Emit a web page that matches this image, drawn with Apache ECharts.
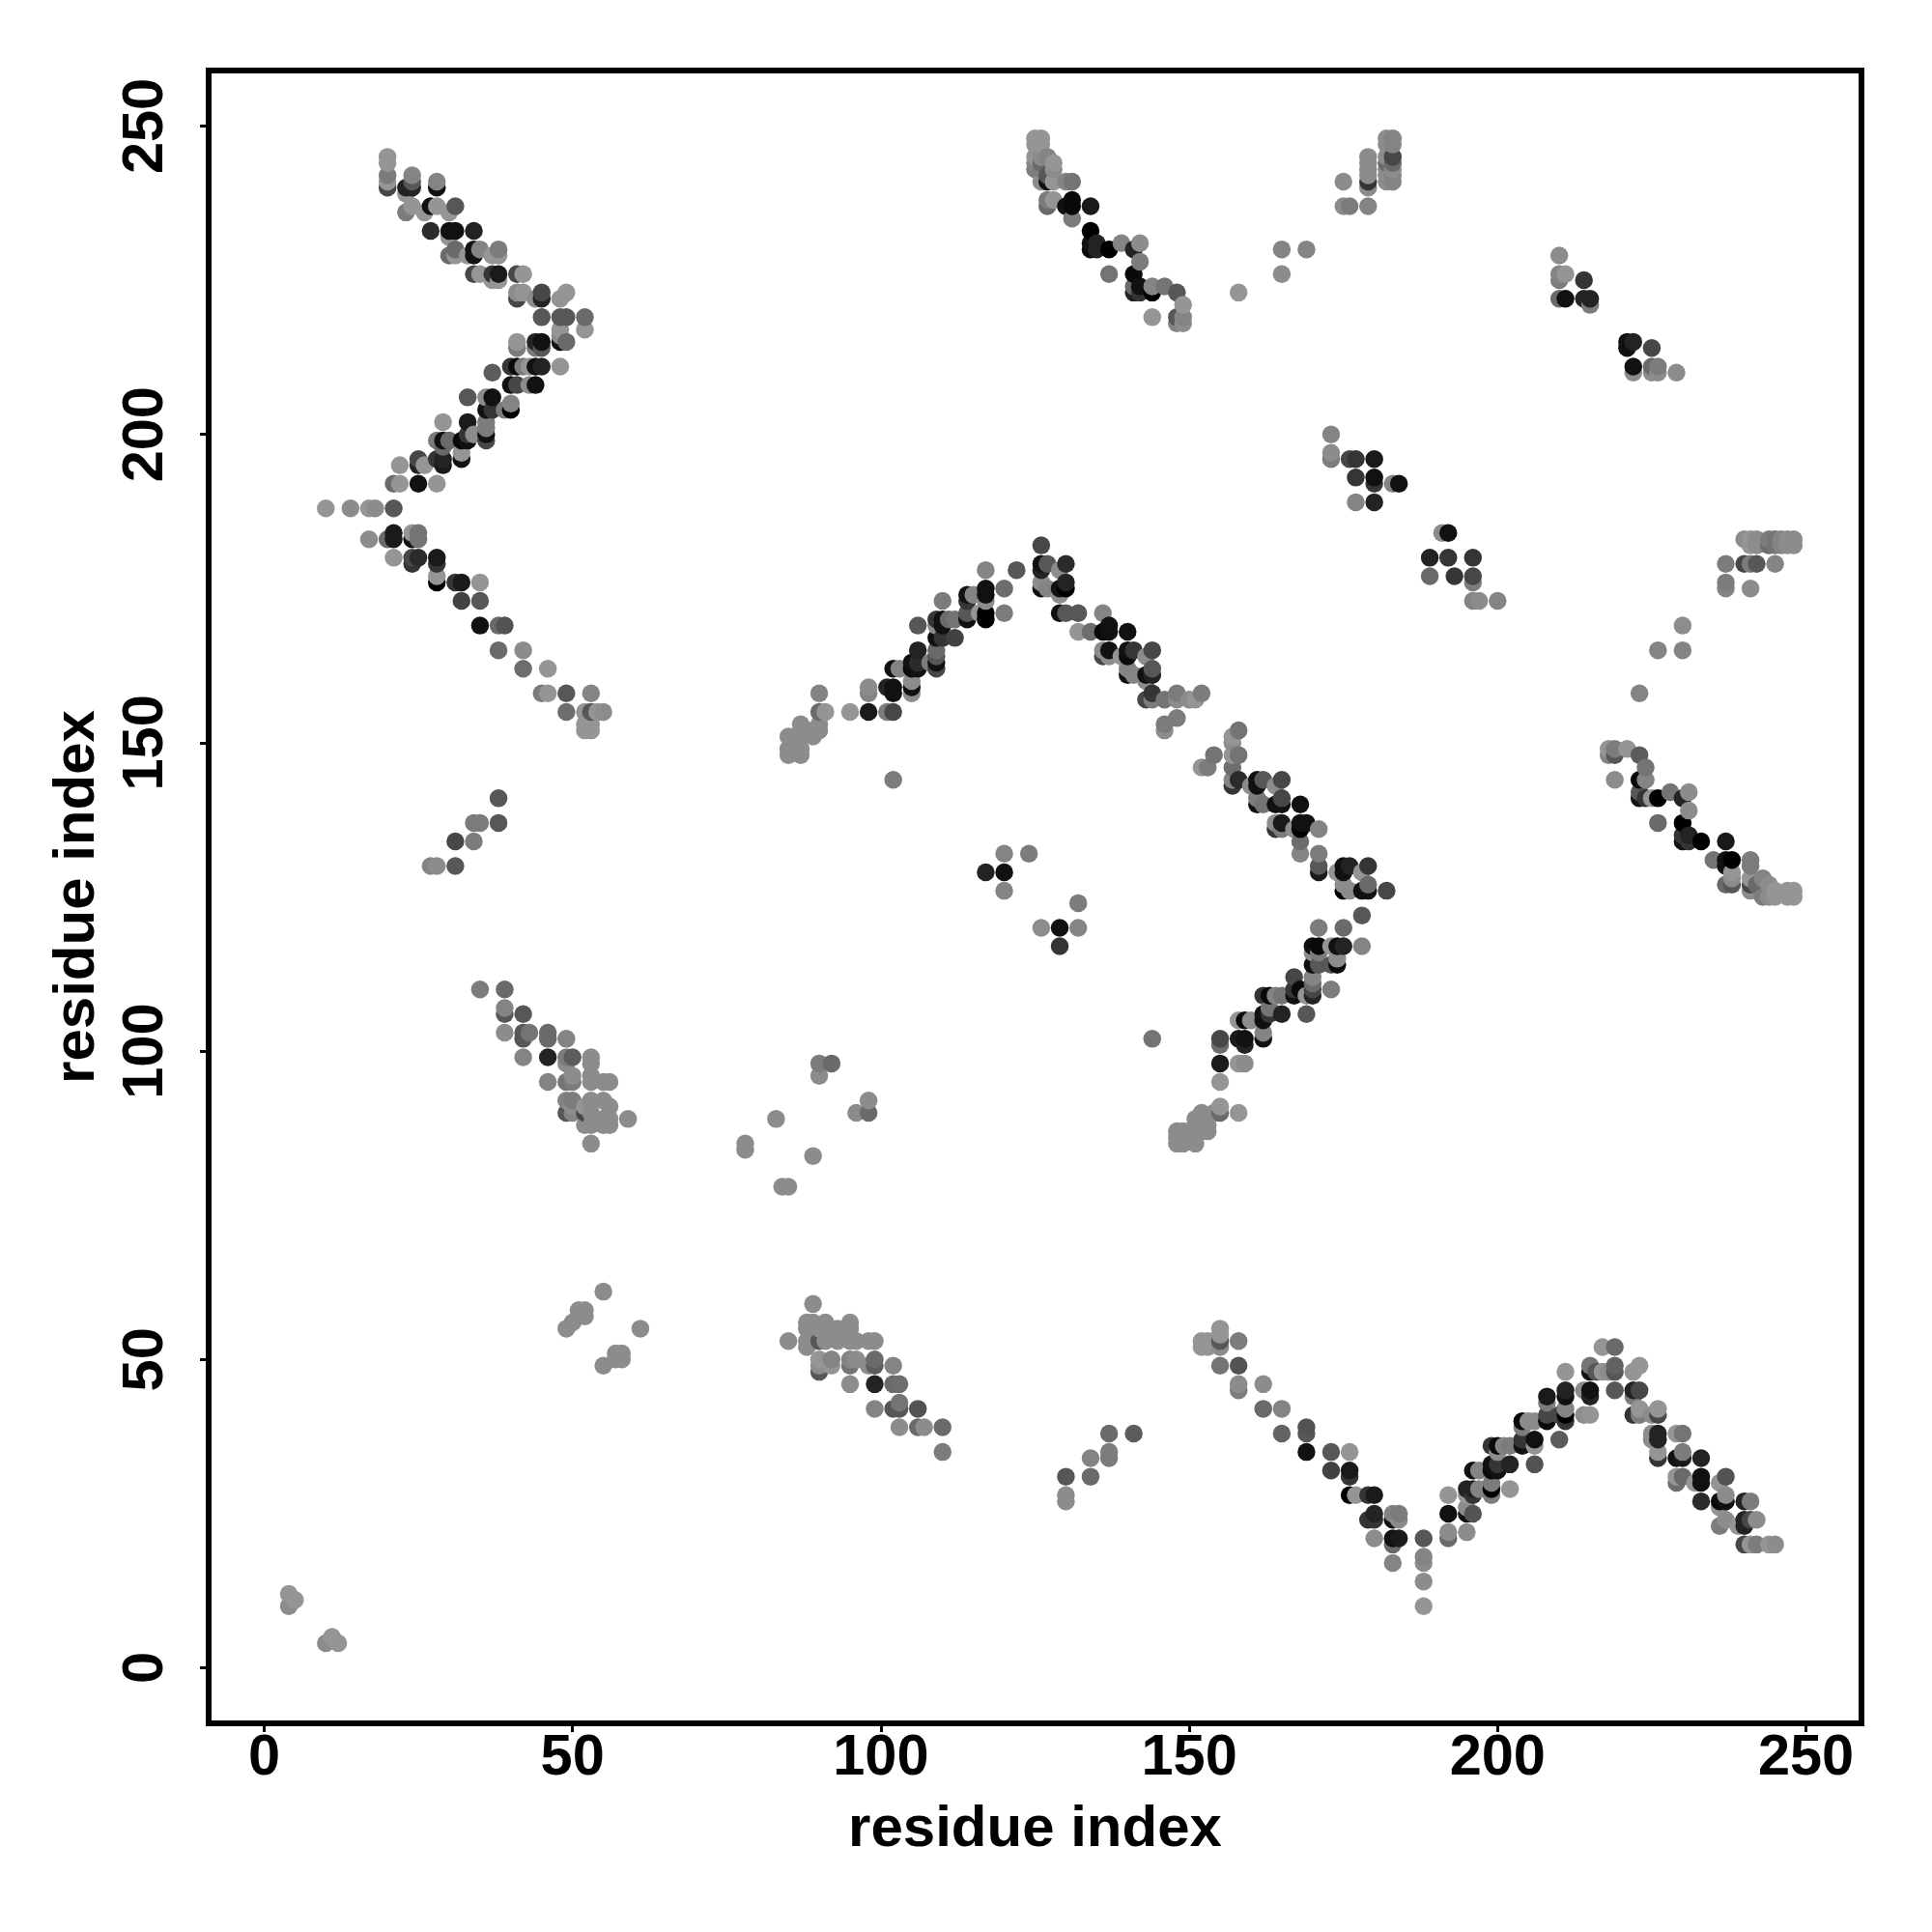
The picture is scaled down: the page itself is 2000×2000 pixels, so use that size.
<!DOCTYPE html>
<html>
<head>
<meta charset="utf-8">
<script src="https://cdn.jsdelivr.net/npm/echarts@6/dist/echarts.min.js"></script>
<style>html,body{margin:0;padding:0;background:#fff}#c{width:2000px;height:2000px}</style>
</head>
<body>
<div id="c"></div>
<script>
// every entry: [residue i, residue j, shade level (0 dark .. 9 light)]
const cornerLow = [[4,12,9],[5,11,9],[4,10,8.5],[10,4,8.5],[11,5,9],[12,4,9]];
const armTopLeft = [
[20,240,4.3],[20,241,9],[20,242,7.5],[20,244,9],[20,245,9],[23,240,2.1],[23,239,9],[24,242,8],[24,241,5.3],[24,240,2.1],[23,236,7.5],[24,237,9],
[26,236,9],[28,241,8],[28,240,1],[27,237,1],[28,237,9],[27,233,2.6],[31,237,5.3],[30,236,9],[30,233,1],[31,233,1],[34,233,2.1],[30,232,9],
[30,229,6.4],[31,230,6.4],[31,229,9],[33,229,9],[34,230,1],[34,229,1],[35,230,8],[38,230,7.5],[37,229,9],[38,229,9],[34,226,4.3],[35,226,9],
[37,226,3.2],[38,226,1.6],[37,225,9],[38,225,9],[41,226,4.3],[42,226,9],[41,223,8.5],[41,222,4.3],[42,223,9],[44,222,8.5],[45,223,4.3],[45,222,2.1],
[48,222,9],[49,223,9],[45,219,5.3],[48,219,5.3],[49,219,5.3],[52,219,6.4],[52,217,9],[48,217,9],[48,216,8.5],[48,215,1],[49,215,6.4]];
const armMidLeft = [
[41,215,9],[41,214,7.5],[44,215,2.1],[45,215,1],[45,214,5.3],[44,214,7.5],[40,211,3.2],[41,211,0.6],[42,211,7.5],[43,211,9],[44,211,1],[45,211,2.1],[48,211,9],
[37,210,5.6],[40,208,1],[41,208,4.3],[43,208,8.5],[44,208,1],[33,206,5.3],[36,206,8.5],[37,206,1],[36,204,1],[37,204,3.2],[40,205,8],[40,204,0],[39,204,7.5],
[29,202,9],[33,202,1.6],[36,202,7.5],[36,201,7.5],[36,200,1],[36,199,4.3],[28,199,7.5],[29,199,1],[30,199,6.4],[29,198,6.4],[32,199,0.6],[33,200,3.2],[33,199,1],[34,200,8.5],
[25,196,4.3],[22,195,9],[25,195,2.1],[26,195,9],[28,196,3.2],[29,196,2.1],[29,195,1.6],[32,197,9],[32,196,1],[21,192,6.4],[22,192,9],[25,192,1],[28,192,9]];
const armLowLeft = [
[10,188,9],[14,188,8.5],[17,188,9],[18,188,8.5],[21,188,5.3],[17,183,8.5],[20,183,6.4],[21,184,1.6],[21,183,1.6],[24,183,1],[24,184,9],[25,184,7],[25,183,7],
[21,180,9],[24,180,4.3],[24,179,3.2],[25,180,2.6],[28,180,1.6],[28,179,3.2],[28,177,9],[28,176,0],[31,176,3.2],[32,176,1.6],[35,176,9],[32,173,4],[35,173,5.3],
[35,169,1],[38,169,6.4],[39,169,5],[38,165,6.4],[42,165,8.5],[42,162,6.6],[46,162,9],[45,158,7.5],[46,158,9],[49,158,5.3],[53,158,8],[49,155,6.6],[52,155,9],[53,155,5.3],
[54,155,9],[55,155,8.5],[52,153,9],[53,153,9],[52,152,9],[53,152,9]];
const islandLeft = [[38,141,5.3],[38,137,5.3],[34,137,7.5],[35,137,7.5],[31,134,4.3],[34,134,7.5],[31,130,5.3],[27,130,8],[28,130,8.5]];
const armDiagLeft = [
[35,110,7.5],[39,110,6.4],[39,107,8],[39,106,5.3],[42,106,5.3],[39,103,8.5],[42,103,5.3],[42,102,5.3],[43,103,7],[46,103,6.4],[46,102,6.4],[49,102,8],
[42,99,8],[46,99,2.1],[49,99,7.5],[50,99,5.6],[49,98,8.5],[53,99,8.5],[53,98,8.5],[46,95,8],[49,95,7],[50,95,7.5],[50,96,8.5],[53,96,8.5],[53,95,8.5],[55,95,8.5],[56,95,8.5],
[49,92,8],[50,92,7.5],[50,91,8.5],[52,91,9],[53,92,8.5],[55,92,8.5],[56,91,8.5],[49,90,5.3],[50,90,8],[52,90,4.3],[53,90,8.5],[52,88,8.5],[53,88,8.5],[55,88,8.5],[56,88,8.5],
[55,89,8.5],[56,89,8.5],[59,89,8.5],[53,85,8.5]];
const scatterMiddle = [[90,98,7.5],[90,96,8.5],[92,98,6.4],[96,90,8.5],[98,90,6.4],[98,92,8.5],[78,85,8.5],[78,84,8.5],[83,89,8.5],[89,83,8.5],[84,78,8.5],[85,78,8.5]];
const scatterBottom = [[55,61,8.5],[49,55,8.5],[51,58,8.5],[52,58,8.5],[51,57,8.5],[52,57,8.5],[50,56,8.5],[55,49,8.5],[57,51,8.5],[58,51,8.5],[57,50,8.5],[58,50,8.5],[61,55,8.5]];
const armBottomMid = [
[89,59,8.5],[85,53,8.5],[88,56,8.5],[89,56,8.5],[91,56,8.5],[95,56,8.5],[88,55,8.5],[89,55,8.5],[90,55,8.5],[91,55,8.5],[93,55,8.5],[95,55,8.5],[88,53,8.5],[89,53,8.5],[88,52,8.5],
[90,53,5.3],[91,53,8.5],[93,53,8.5],[95,53,8.5],[96,53,8.5],[98,53,8.5],[99,53,8.5],[90,50,9],[90,49,8.5],[90,48,5.3],[92,50,8],[92,49,9],[95,50,8],[95,49,7],[96,50,8.5],[98,49,8.5],
[99,50,6.4],[99,49,5.6],[102,49,8],[95,46,8.5],[99,46,2.1],[102,46,6.4],[103,46,6.6],[99,42,8],[102,42,5.3],[103,42,5.3],[103,43,7],[106,42,5],[103,39,8.5],[106,39,6.4],[107,39,8.5],
[110,39,6.4],[110,35,7.5],[130,31,5.3],[134,31,6.4],[130,28,8.5],[130,27,8.5],[134,34,8],[137,34,7.5],[137,35,7.5],[137,38,6.4],[141,38,5.6]];
const armTopMid = [
[125,248,9],[126,248,9],[125,247,9],[126,247,9],[125,245,9],[125,244,8],[125,243,7.5],[126,245,8.5],[126,244,6.4],[126,243,7.5],[127,245,8],[128,244,9],[128,243,8.5],[127,242,5.3],
[126,241,8.5],[127,241,1],[128,241,9],[130,241,8],[131,241,7],[127,238,7.5],[127,237,6.4],[128,238,9],[130,237,1],[131,238,0.6],[131,237,0.6],[131,235,7.5],[134,237,1.6],
[134,233,0],[134,231,1],[134,230,0.6],[135,231,2.1],[135,230,2.1],[137,230,0],[139,231,8],[141,230,2.1],[142,231,8.5],[142,228,7.5],[137,226,7],[141,226,0.6],[141,224,6.4],[141,223,2.1],
[142,224,1],[142,223,3.2],[144,224,8],[144,223,0],[146,224,7],[148,223,5.3],[149,221,9],[148,219,5.3],[149,219,8],[148,218,8],[149,218,8.5],[144,219,9]];
const armTopRight = [
[158,223,9],[165,230,8],[169,230,8],[165,226,8.5],[175,241,8.5],[175,237,8.5],[176,237,7.5],[179,237,8],[179,245,8.5],[179,244,8.5],[179,243,8.5],[179,242,8.5],[179,241,3.2],[179,240,8.5],
[182,248,8.5],[182,247,8.5],[182,245,8.5],[182,244,6.4],[182,243,8.5],[182,242,8.5],[182,241,8.5],[183,248,8],[183,247,8],[183,245,4.3],[183,244,6.4],[183,243,8.5],[183,242,8],[183,241,8]];
const arcUpper = [
[126,182,4.3],[126,179,1],[126,178,2.1],[127,179,5.3],[129,178,8.5],[130,179,2.6],[130,176,2.1],[129,175,1],[130,175,0],[126,175,1],[126,176,8.5],[127,175,8],[129,174,8.5],
[122,178,5.3],[117,178,8],[120,175,6.6],[120,171,7.5],[117,175,1],[117,174,1],[117,173,8.5],[114,174,1],[115,174,8],[114,173,3.2],[117,171,0],[117,170,0],[116,171,9],[114,171,5.3],[114,170,1],
[110,173,7.5],[109,170,3.2],[110,170,1],[111,170,6.4],[112,170,7],[110,169,1],[109,169,8.5],[106,169,5.3],[109,167,1],[110,167,3.2],[112,167,4],[106,165,2.1],[109,165,6.4],[109,164,5.3],
[105,163,1],[106,163,2.6],[105,162,0.6],[106,162,1],[108,163,7.5],[109,163,1],[109,162,4.3],[102,162,1],[103,162,8],[102,159,1],[101,159,2.1],[102,158,1],[98,159,8.5],[98,158,8],
[105,160,8.5],[105,159,1],[105,158,8.5],[98,155,1.6],[95,155,9],[101,155,7.5],[102,155,4.3],[90,158,8],[90,155,6.4],[91,155,9],[90,153,8.5],[87,153,8.5],[90,152,8.5],[89,151,8.5],[88,152,8.5],
[85,151,8.5],[86,151,8.5],[85,148,8.5],[87,148,8.5],[85,149,8.5],[86,149,8.5],[87,149,8.5],[87,151,8.5],[102,144,7.5]];
const arcUpperRight = [
[129,171,1],[130,171,5.3],[132,171,5.3],[132,168,9],[134,168,6.6],[136,171,8],[137,169,1],[136,168,0.6],[137,168,1],[140,168,1],[136,165,8.5],[136,164,4.3],[137,165,1],[137,164,8.5],
[140,165,1],[140,164,0.6],[141,165,3.2],[139,164,9],[144,165,4.3],[143,164,8.5],[140,162,8],[140,161,1],[143,161,1],[144,161,2.1],[144,162,5.3],[141,161,8],[144,158,3.2],[143,157,4.3],
[144,157,7.5],[146,157,7],[148,158,7.5],[148,157,8.5],[150,157,8.5],[151,157,9],[152,158,7.5],[143,160,8.5],[146,153,7.5],[146,152,8.5],[148,154,7.5],[152,146,9],[153,146,7.5],[154,148,7],
[158,152,7],[157,151,9],[157,150,8.5],[158,148,7],[157,148,9],[157,146,6.6],[157,144,8],[157,143,3.2],[158,144,2.6]];
const arcRight = [
[160,143,8.5],[161,144,1],[161,143,1],[162,144,5.3],[164,143,8.5],[165,144,4.3],[165,141,4.3],[164,140,1],[165,140,1],[161,140,1],[161,141,7.5],[162,140,7],[168,140,1],[164,137,8.5],[164,136,3.2],
[165,137,1.6],[165,136,7.5],[167,136,8.5],[168,137,1],[169,137,1],[168,136,0],[171,136,8],[168,134,6.6],[168,132,8],[171,132,7.5],[171,130,5.3],[171,129,1.6],[174,129,9],[175,130,1],[175,129,1],
[176,130,2.1],[178,129,9],[179,130,3.2],[179,127,6.4],[175,126,0],[175,127,8.5],[176,126,8.5],[178,126,1],[179,126,1],[182,126,4.3],[178,122,5.3],[171,120,7.5],[175,120,6.4]];
const arcLowerRight = [
[170,117,1],[171,117,0.6],[173,117,9],[174,117,1],[175,117,2.1],[178,117,8],[170,116,8.5],[171,116,7.5],[174,115,8.5],[170,114,1],[171,114,5.3],[173,114,5.3],[174,114,0.6],[167,112,4.3],[170,112,8],
[170,111,6.4],[167,110,3.2],[167,109,1],[168,110,0.6],[170,110,4.3],[170,109,2.1],[169,109,9],[173,110,7.5],[162,109,3.2],[163,109,0.6],[164,109,8],[165,109,7],[169,106,5.3],[162,106,1],[163,106,3.2],
[165,106,2.1],[163,107,7],[158,105,9],[159,105,0.6],[160,105,8.5],[162,105,1],[162,103,8],[162,102,1],[158,102,1.6],[159,102,1],[159,101,2.1],[155,102,4.3],[155,101,6.6],[155,98,1.6],[158,98,9],[159,98,8.5],
[155,95,9],[155,91,9],[155,90,6.4],[158,90,9],[154,90,8.5],[152,90,8.5],[151,89,8.5],[152,89,8.5],[153,88,8.5],[152,88,8.5],[153,87,8.5],[148,87,8.5],[149,87,8.5],[150,87,8.5],[148,85,8.5],[149,85,8.5],
[151,85,8.5],[150,86,8.5],[149,86,8.5],[148,86,8.5],[152,87,8.5],[144,102,7]];
const islandCentre = [[117,129,2.1],[120,129,1],[120,132,8],[124,132,7.5],[120,126,8],[132,124,7.5],[126,120,8.5],[129,120,1],[132,120,8],[129,117,3.2]];
const groupUpperRight = [
[173,200,8],[173,197,8.5],[173,196,7.5],[176,196,4.3],[177,196,3.2],[180,196,1.6],[177,193,3.2],[180,193,1],[180,192,3.2],[184,192,1],[183,192,8],[177,189,8],[180,189,2.1],
[191,184,8.5],[192,184,1],[189,180,2.1],[192,180,3.2],[196,180,3.2],[189,177,6.4],[193,177,3.2],[196,177,4.3],[196,176,7.5],[196,173,8],[197,173,8.5],[200,173,8],
[210,229,8.5],[210,226,8],[211,226,9],[210,225,7.5],[214,225,3.2],[210,222,6.4],[211,222,1],[214,222,2.1],[215,222,2.1],[215,221,7.5],
[221,215,1],[222,215,2.1],[225,214,4.3],[221,214,1],[222,211,1],[225,211,6.4],[226,211,7.5],[222,210,8.5],[225,210,8.5],[226,210,8.5],[229,210,8.5]];
const groupFarRight = [
[223,158,8],[226,165,8],[230,165,8],[230,169,8.5],[237,179,7.5],[237,175,8],[237,176,7.5],[240,179,4.3],[241,175,8.5],[241,179,7.5],[242,179,5.3],[245,179,8],[240,183,8.5],
[241,183,9],[241,182,9],[242,183,8.5],[242,182,8.5],[244,183,7.5],[244,182,6.6],[245,183,7],[245,182,7],[246,183,8],[246,182,8],[247,183,8.5],[247,182,8.5],[248,183,8.5],[248,182,8.5]];
const armLowerRight = [
[218,149,9],[218,148,8],[219,149,7.5],[219,148,5.3],[221,149,9],[223,148,5.6],[224,146,7],[219,144,8.5],[223,144,0.6],[224,144,8],[223,142,5.3],[223,141,1],[224,141,3.2],[225,141,9],[226,141,0],
[228,142,7],[230,141,2.1],[231,142,8.5],[231,139,8.5],[226,137,6.4],[230,137,0],[230,135,3.2],[230,134,1],[231,135,2.1],[231,134,3.2],[233,134,0],[237,134,1.6],[235,131,7],[237,131,1],[238,131,0],
[237,130,1],[241,131,7.5],[241,130,7.5],[238,129,9],[238,128,8.5],[237,127,6.4],[238,127,5.3],[241,128,9],[241,127,4.3],[241,126,8.5],[243,128,8],[242,127,6.4],[244,127,8.5],[243,125,7.5],[244,125,8.5],
[245,126,9],[245,125,9],[247,126,9],[248,126,9],[247,125,9],[248,125,9]];
const vBottomLeft = [
[155,55,9],[155,54,9],[155,53,5.3],[155,52,8.5],[152,53,9],[153,53,9],[152,52,9],[153,52,9],[154,53,9],[158,53,7.5],[155,49,7],[158,49,5],[158,46,8.5],[158,45,7.5],[162,46,8.5],[162,42,6.4],[165,42,8],[165,38,6],
[169,39,5],[169,38,5.3],[169,35,1],[173,35,5.3],[176,35,9],[173,32,4],[176,32,1.6],[176,31,3.2],[176,28,0],[177,28,9],[179,28,3.2],[180,28,1.6],[179,24,3.2],[180,25,2.1],[180,24,3.2],[180,21,8.5],
[183,25,8],[184,25,7.5],[183,24,1],[184,24,8.5],[183,21,1],[184,21,1.6],[183,20,6.4],[183,17,8],[188,21,5.3],[188,18,8],[188,17,8.5],[188,14,8.5],[188,10,9]];
const vBottomRight = [
[192,28,9],[192,25,1],[192,22,8.5],[192,21,6.4],[195,22,8.5],[195,25,1],[195,26,8.5],[196,25,5],[195,29,2.1],[196,29,2.1],[196,28,3.2],[195,28,9],[197,29,8],[199,30,7.5],[199,29,0],[199,28,7.5],[202,29,9],
[196,32,1],[197,32,8],[199,33,1],[199,32,0.6],[200,33,3.2],[200,32,1],[202,33,2.1],[200,35,8.5],[199,36,3.2],[200,36,0.6],[201,36,8],[202,36,7.5],[204,37,3.2],[204,36,1],[206,33,5],[206,37,1],[206,36,9],
[210,37,5.6],[204,40,0.6],[205,40,8.5],[204,39,7.5],[206,40,8.5],[208,44,1.6],[208,43,7.5],[208,41,4.3],[208,40,0.6],[211,45,2.1],[211,44,1],[211,42,8],[211,41,0],[211,40,3.2],[210,41,4.3],[211,48,9],
[214,41,8.5],[215,41,9],[215,45,1],[215,44,2.1],[214,45,8.5],[215,49,7],[215,48,1],[216,48,5.3],[217,48,9],[217,52,9],[219,52,6.4],[219,49,6],[219,48,5.3],[218,48,8.5],[219,45,5.3],[222,48,9],[223,49,9],
[222,45,2.1],[223,45,4.3],[222,44,7.5],[222,41,3.2],[223,41,7.5],[223,42,9],[225,41,8.5],[226,42,9],[226,41,4.3],[225,38,8.5],[226,38,2.1],[226,37,2.1],[225,37,8.5],[226,35,9],[226,34,3.2],
[229,38,9],[230,38,7],[230,35,7.5],[229,34,1],[230,34,1.6],[233,34,2.1],[229,31,9],[229,30,6.6],[230,31,6.4],[232,30,9],[233,31,1],[233,30,1],[233,27,2.6],[236,30,9],[237,31,5],[236,27,0.6],[237,27,1],
[237,28,8.5],[236,26,9],[236,23,7.5],[237,24,8.5],[240,27,2.1],[241,27,7.5],[239,23,9],[240,24,2.1],[240,23,2.1],[241,24,4.3],[242,24,8.5],[240,20,4.3],[241,20,9],[242,20,7.5],[244,20,9],[245,20,8.5]];
const tickValues = [0,50,100,150,200,250];
const axisTitle = 'residue index';

const points = [].concat(cornerLow,armTopLeft,armMidLeft,armLowLeft,islandLeft,armDiagLeft,scatterMiddle,scatterBottom,armBottomMid,
  armTopMid,armTopRight,arcUpper,arcUpperRight,arcRight,arcLowerRight,islandCentre,groupUpperRight,groupFarRight,armLowerRight,vBottomLeft,vBottomRight)
  .slice().sort((a,b)=>a[0]-b[0]||a[1]-b[1]);
const grey = s => { const v=Math.round(s*16.5); return 'rgb('+v+','+v+','+v+')'; };
const font = '"Liberation Sans", Arial, sans-serif';
const axisCommon = {
  type:'value', min:-9, max:259, scale:false, splitLine:{show:false},
  axisLine:{show:false,onZero:false}, nameLocation:'middle', name:axisTitle,
  nameTextStyle:{fontFamily:font,fontWeight:'bold',fontSize:60,color:'#000'},
  axisTick:{show:true,length:9,customValues:tickValues,lineStyle:{color:'#000',width:3}}
};
const chart = echarts.init(document.getElementById('c'),null,{renderer:'canvas',width:2000,height:2000});
chart.setOption({
  animation:false, backgroundColor:'#fff',
  grid:{left:216,right:73,top:73,bottom:216,show:true,borderColor:'#000',borderWidth:6,backgroundColor:'transparent'},
  xAxis:Object.assign({},axisCommon,{position:'bottom',nameGap:80,
    axisLabel:{customValues:tickValues,margin:7,fontFamily:font,fontWeight:'bold',fontSize:59.5,color:'#000'}}),
  yAxis:Object.assign({},axisCommon,{position:'left',nameGap:106,
    axisLabel:{customValues:tickValues,rotate:90,margin:34,fontFamily:font,fontWeight:'bold',fontSize:59.5,color:'#000',align:'center',verticalAlign:'bottom'}}),
  series:[{type:'scatter',symbol:'circle',symbolSize:18.5,
    data:points.map(p=>({value:[p[0],p[1]],itemStyle:{color:grey(p[2]),opacity:1}}))}]
});
</script>
</body>
</html>
